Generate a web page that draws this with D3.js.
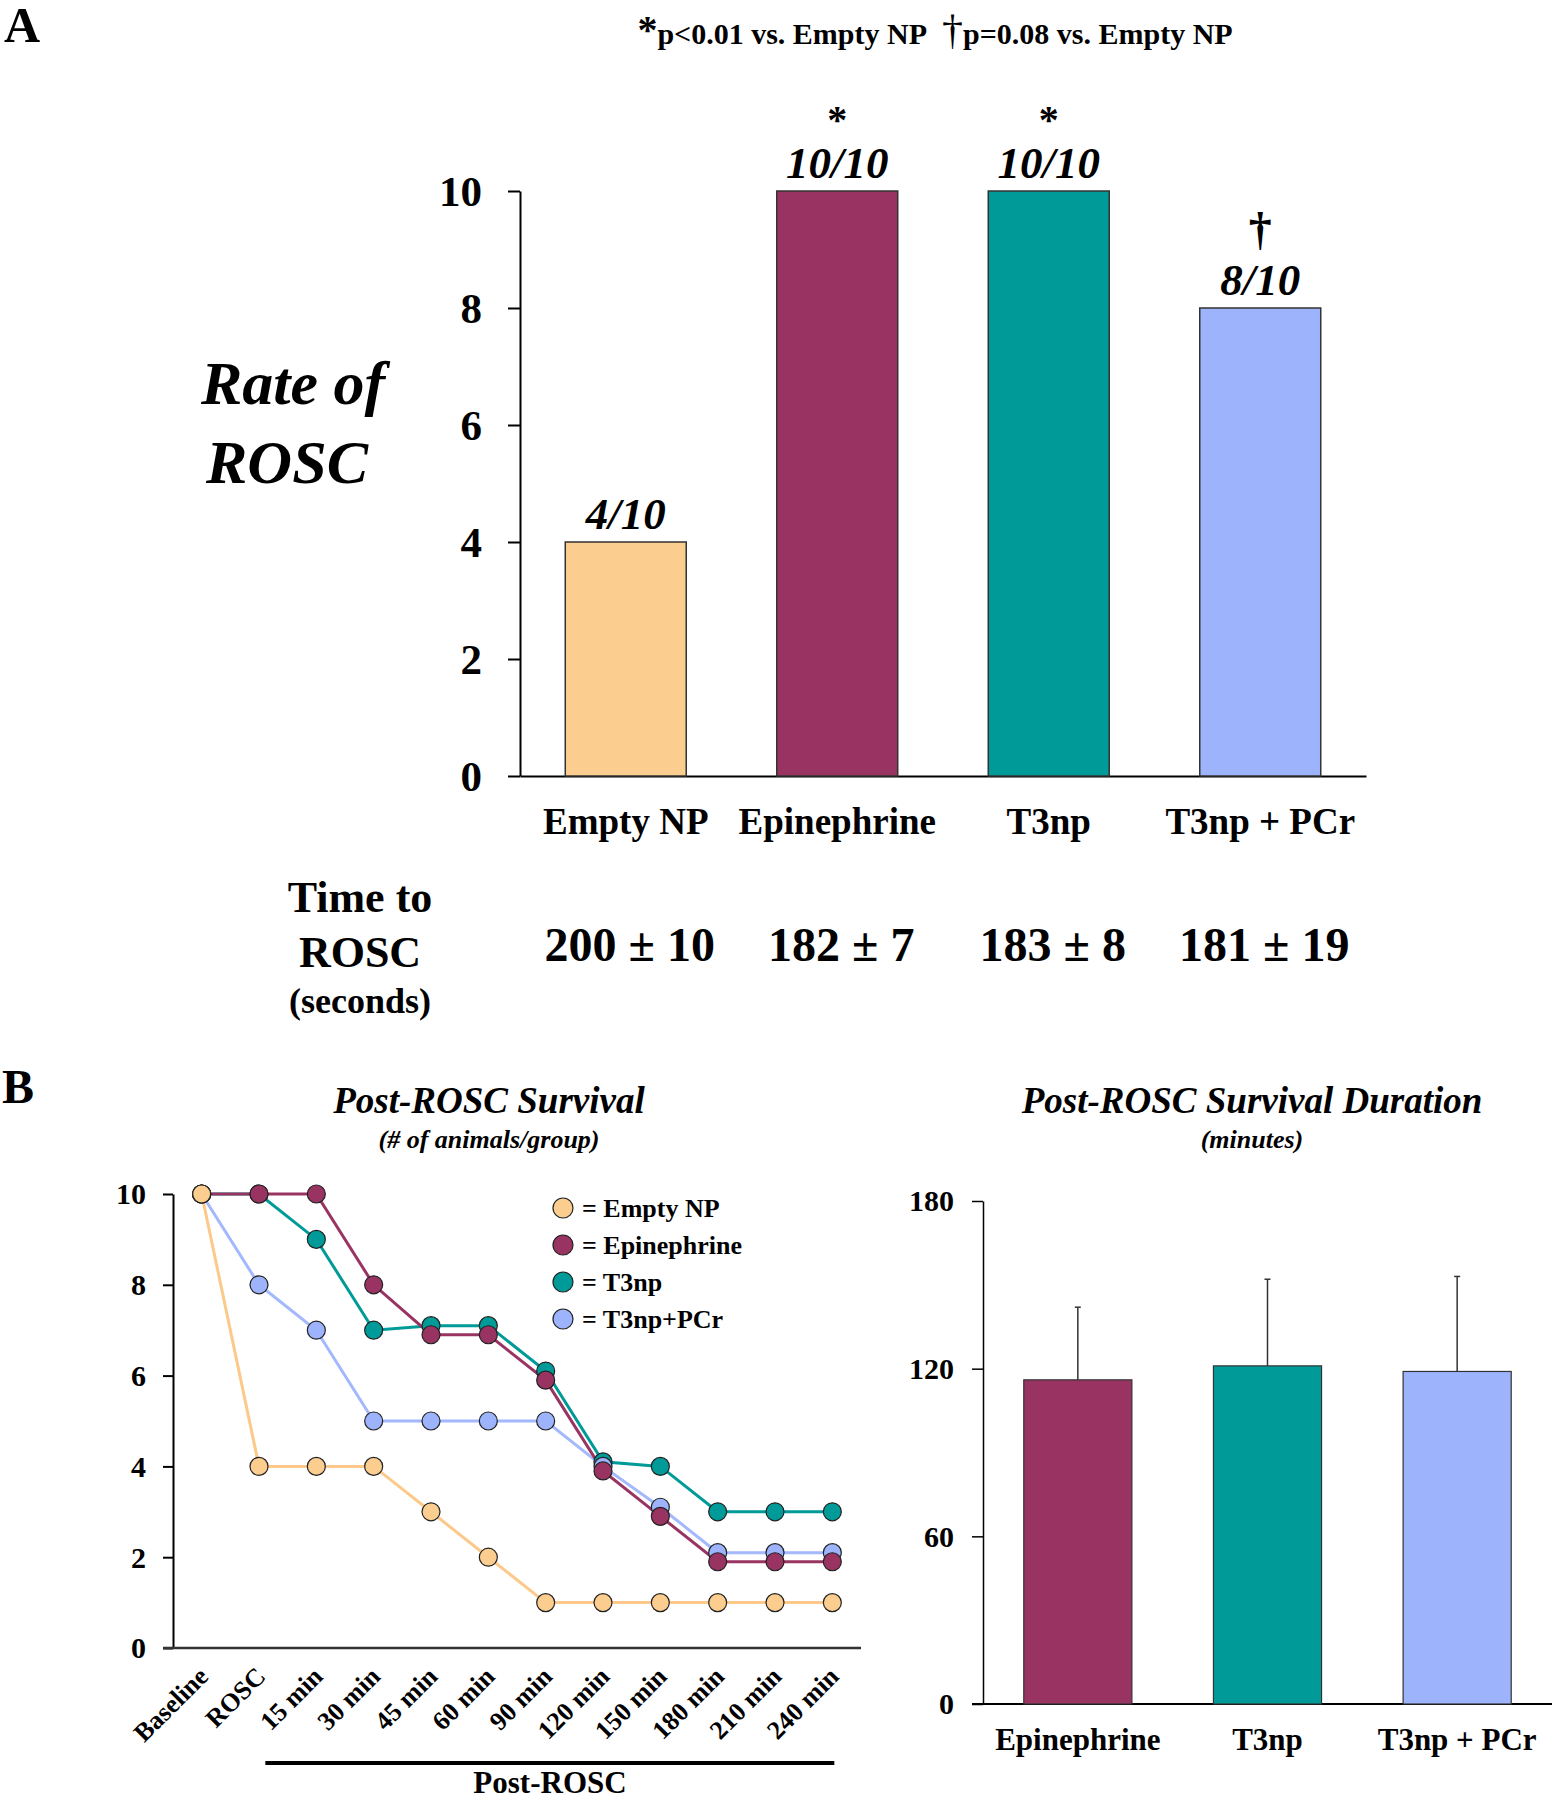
<!DOCTYPE html>
<html>
<head>
<meta charset="utf-8">
<script src="https://cdn.jsdelivr.net/npm/d3@7"></script>
<style>
  body { margin: 0; background: #fff; }
  svg text { font-family: "Liberation Serif", "Times New Roman", serif; font-weight: bold; }
</style>
</head>
<body>
<div id="chart"></div>
<script>
// panel A data
const groupsA = ['Empty NP', 'Epinephrine', 'T3np', 'T3np + PCr'];
const roscCount = [4, 10, 10, 8];
const roscLabel = ['4/10', '10/10', '10/10', '8/10'];
const roscMark = ['', '*', '*', '†'];
const timeToRosc = ['200 ± 10', '182 ± 7', '183 ± 8', '181 ± 19'];
const colorsA = ['#fbcd8f', '#993462', '#009a98', '#9db3fc'];

// panel B left data
const timepoints = ['Baseline', 'ROSC', '15 min', '30 min', '45 min', '60 min', '90 min', '120 min', '150 min', '180 min', '210 min', '240 min'];
const survEmpty = [10, 4, 4, 4, 3, 2, 1, 1, 1, 1, 1, 1];
const survEpi   = [10, 10, 10, 8, 6.9, 6.9, 5.9, 3.9, 2.9, 1.9, 1.9, 1.9];
const survT3    = [10, 10, 9, 7, 7.1, 7.1, 6.1, 4.1, 4.0, 3, 3, 3];
const survPCr   = [10, 8, 7, 5, 5, 5, 5, 4.0, 3.1, 2.1, 2.1, 2.1];

// panel B right data
const groupsR = ['Epinephrine', 'T3np', 'T3np + PCr'];
const durMean = [116, 121, 119];
const durSem = [26, 31, 34];
const colorsR = ['#993462', '#009a98', '#9db3fc'];

const svg = d3.select('#chart').append('svg')
  .attr('width', 1552).attr('height', 1800);

// ---------- panel A ----------
svg.append('text').attr('x', 4).attr('y', 42).attr('font-size', 50).text('A');

const foot = svg.append('text').attr('x', 935).attr('y', 44)
  .attr('text-anchor', 'middle').attr('font-size', 30);
foot.append('tspan').attr('font-size', 40).attr('dy', -1).text('*');
foot.append('tspan').attr('dy', 1).text('p<0.01 vs. Empty NP\u00a0 ');
foot.append('tspan').attr('font-size', 42).attr('font-weight', 'normal').text('†');
foot.append('tspan').text('p=0.08 vs. Empty NP');

const yA = d3.scaleLinear().domain([0, 10]).range([776, 191]);
const xA = d3.scaleBand().domain(groupsA).range([520, 1366])
  .paddingInner(0.428).paddingOuter(0.214);

const axA = svg.append('g').attr('transform', 'translate(520,0)')
  .call(d3.axisLeft(yA).tickValues([0, 2, 4, 6, 8, 10]).tickSize(12).tickSizeOuter(0).tickPadding(26));
axA.selectAll('path, line').attr('stroke', '#000').attr('stroke-width', 2);
axA.selectAll('text').attr('font-size', 43).attr('font-family', null).attr('fill', '#000').attr('dy', '0.33em');

const bxA = svg.append('g').attr('transform', 'translate(0,776)')
  .call(d3.axisBottom(xA).tickSize(0).tickSizeOuter(0));
bxA.select('path').attr('stroke', '#000').attr('stroke-width', 2);
bxA.selectAll('text').attr('font-size', 37).attr('font-family', null).attr('fill', '#000')
  .attr('y', 58).attr('dy', 0);

svg.append('g').selectAll('rect').data(groupsA).join('rect')
  .attr('x', d => xA(d)).attr('width', xA.bandwidth())
  .attr('y', (d, i) => yA(roscCount[i])).attr('height', (d, i) => yA(0) - yA(roscCount[i]))
  .attr('fill', (d, i) => colorsA[i]).attr('stroke', '#333').attr('stroke-width', 1.5);

svg.append('g').selectAll('text').data(groupsA).join('text')
  .attr('x', d => xA(d) + xA.bandwidth() / 2)
  .attr('y', (d, i) => yA(roscCount[i]) - 13)
  .attr('text-anchor', 'middle').attr('font-size', 45).attr('font-style', 'italic')
  .text((d, i) => roscLabel[i]);

svg.append('g').selectAll('text').data(groupsA).join('text')
  .attr('x', d => xA(d) + xA.bandwidth() / 2)
  .attr('y', (d, i) => yA(roscCount[i]) + (roscMark[i] === '*' ? -58 : -64))
  .attr('text-anchor', 'middle')
  .attr('font-size', (d, i) => roscMark[i] === '*' ? 40 : 46)
  .attr('font-weight', (d, i) => roscMark[i] === '*' ? 'bold' : 'normal')
  .text((d, i) => roscMark[i]);

svg.append('text').attr('x', 293).attr('y', 404).attr('text-anchor', 'middle')
  .attr('font-size', 62).attr('font-style', 'italic').text('Rate of');
svg.append('text').attr('x', 287).attr('y', 483).attr('text-anchor', 'middle')
  .attr('font-size', 62).attr('font-style', 'italic').text('ROSC');

svg.append('text').attr('x', 360).attr('y', 912).attr('text-anchor', 'middle')
  .attr('font-size', 44).text('Time to');
svg.append('text').attr('x', 360).attr('y', 967).attr('text-anchor', 'middle')
  .attr('font-size', 44).text('ROSC');
svg.append('text').attr('x', 360).attr('y', 1013).attr('text-anchor', 'middle')
  .attr('font-size', 36).text('(seconds)');

svg.append('g').selectAll('text').data(groupsA).join('text')
  .attr('x', d => xA(d) + xA.bandwidth() / 2 + 4)
  .attr('y', 961).attr('text-anchor', 'middle').attr('font-size', 48)
  .text((d, i) => timeToRosc[i]);

// ---------- panel B left ----------
svg.append('text').attr('x', 2).attr('y', 1103).attr('font-size', 48).text('B');

svg.append('text').attr('x', 489).attr('y', 1113).attr('text-anchor', 'middle')
  .attr('font-size', 37).attr('font-style', 'italic').text('Post-ROSC Survival');
svg.append('text').attr('x', 489).attr('y', 1148).attr('text-anchor', 'middle')
  .attr('font-size', 26).attr('font-style', 'italic').text('(# of animals/group)');

const yL = d3.scaleLinear().domain([0, 10]).range([1648, 1194]);
const xL = d3.scalePoint().domain(timepoints).range([173, 861]).padding(0.5);

const axL = svg.append('g').attr('transform', 'translate(173,0)')
  .call(d3.axisLeft(yL).tickValues([0, 2, 4, 6, 8, 10]).tickSize(10).tickSizeOuter(0).tickPadding(17));
axL.selectAll('path, line').attr('stroke', '#000').attr('stroke-width', 2);
axL.selectAll('text').attr('font-size', 30).attr('font-family', null).attr('fill', '#000').attr('dy', '0.33em');

svg.append('line').attr('x1', 163).attr('x2', 861).attr('y1', yL(0)).attr('y2', yL(0))
  .attr('stroke', '#333').attr('stroke-width', 2.5);

svg.append('g').selectAll('text').data(timepoints).join('text')
  .attr('text-anchor', 'end').attr('font-size', 26)
  .attr('transform', d => `translate(${xL(d) + 8},${1678}) rotate(-45)`)
  .text(d => d);

svg.append('line').attr('x1', xL('15 min') - 51).attr('x2', xL('240 min') + 2)
  .attr('y1', 1763).attr('y2', 1763).attr('stroke', '#000').attr('stroke-width', 4);
svg.append('text').attr('x', 550).attr('y', 1793).attr('text-anchor', 'middle')
  .attr('font-size', 31).text('Post-ROSC');

const series = [
  { name: 'T3np', values: survT3, line: '#009a98', fill: '#009a98' },
  { name: 'T3np+PCr', values: survPCr, line: '#a3b8fd', fill: '#9db3fc' },
  { name: 'Epinephrine', values: survEpi, line: '#993462', fill: '#993462' },
  { name: 'Empty NP', values: survEmpty, line: '#fcc98a', fill: '#fbcd8f' }
];
const lineGen = d3.line().x((d, i) => xL(timepoints[i])).y(d => yL(d));

series.forEach(s => {
  svg.append('path').datum(s.values).attr('d', lineGen)
    .attr('fill', 'none').attr('stroke', s.line).attr('stroke-width', 3);
});
series.forEach(s => {
  svg.append('g').selectAll('circle').data(s.values).join('circle')
    .attr('cx', (d, i) => xL(timepoints[i])).attr('cy', d => yL(d)).attr('r', 9)
    .attr('fill', s.fill).attr('stroke', '#222').attr('stroke-width', 1.2);
});

// legend
const legendOrder = [series[3], series[2], series[0], series[1]];
const leg = svg.append('g').selectAll('g').data(legendOrder).join('g')
  .attr('transform', (d, i) => `translate(563,${1208 + i * 37})`);
leg.append('circle').attr('r', 10).attr('fill', d => d.fill).attr('stroke', '#222').attr('stroke-width', 1.2);
leg.append('text').attr('x', 19).attr('y', 9).attr('font-size', 26).text(d => '= ' + d.name);

// ---------- panel B right ----------
svg.append('text').attr('x', 1252).attr('y', 1113).attr('text-anchor', 'middle')
  .attr('font-size', 37).attr('font-style', 'italic').text('Post-ROSC Survival Duration');
svg.append('text').attr('x', 1252).attr('y', 1148).attr('text-anchor', 'middle')
  .attr('font-size', 26).attr('font-style', 'italic').text('(minutes)');

const yR = d3.scaleLinear().domain([0, 180]).range([1704, 1201]);
const xR = d3.scaleBand().domain(groupsR).range([983, 1552])
  .paddingInner(0.43).paddingOuter(0.215);

const axR = svg.append('g').attr('transform', 'translate(983,0)')
  .call(d3.axisLeft(yR).tickValues([0, 60, 120, 180]).tickSize(11).tickSizeOuter(0).tickPadding(18));
axR.selectAll('path, line').attr('stroke', '#000').attr('stroke-width', 1.5);
axR.selectAll('text').attr('font-size', 30).attr('font-family', null).attr('fill', '#000').attr('dy', '0.33em');

svg.append('line').attr('x1', 972).attr('x2', 1552).attr('y1', yR(0)).attr('y2', yR(0))
  .attr('stroke', '#000').attr('stroke-width', 2);

// error bars (upper only)
const eb = svg.append('g').selectAll('g').data(groupsR).join('g');
eb.append('line')
  .attr('x1', d => xR(d) + xR.bandwidth() / 2).attr('x2', d => xR(d) + xR.bandwidth() / 2)
  .attr('y1', (d, i) => yR(durMean[i])).attr('y2', (d, i) => yR(durMean[i] + durSem[i]))
  .attr('stroke', '#333').attr('stroke-width', 1.5);
eb.append('line')
  .attr('x1', d => xR(d) + xR.bandwidth() / 2 - 3).attr('x2', d => xR(d) + xR.bandwidth() / 2 + 3)
  .attr('y1', (d, i) => yR(durMean[i] + durSem[i])).attr('y2', (d, i) => yR(durMean[i] + durSem[i]))
  .attr('stroke', '#333').attr('stroke-width', 1.5);

svg.append('g').selectAll('rect').data(groupsR).join('rect')
  .attr('x', d => xR(d)).attr('width', xR.bandwidth())
  .attr('y', (d, i) => yR(durMean[i])).attr('height', (d, i) => yR(0) - yR(durMean[i]))
  .attr('fill', (d, i) => colorsR[i]).attr('stroke', '#333').attr('stroke-width', 1.2);

svg.append('g').selectAll('text').data(groupsR).join('text')
  .attr('x', d => xR(d) + xR.bandwidth() / 2).attr('y', 1750)
  .attr('text-anchor', 'middle').attr('font-size', 31).text(d => d);
</script>
</body>
</html>
